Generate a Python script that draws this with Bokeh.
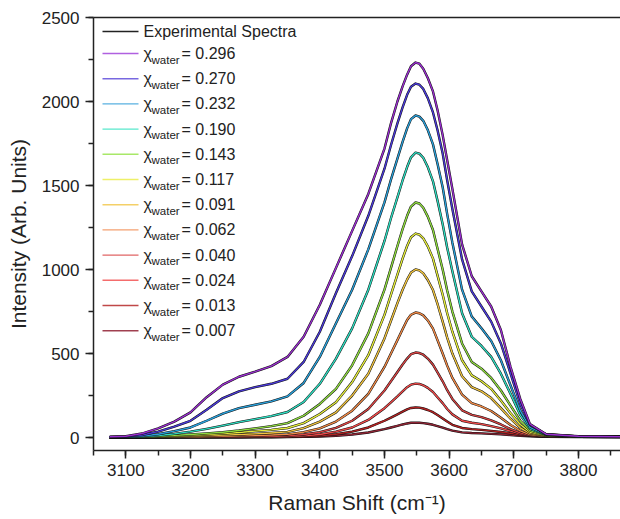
from bokeh.plotting import figure
from bokeh.models import Range1d, SingleIntervalTicker, FixedTicker, Label, BoxAnnotation, LinearAxis
from bokeh.embed import file_html
from bokeh.resources import INLINE

# ---------------- data ----------------
raman_shift = [3075, 3100, 3125, 3150, 3175, 3200, 3225, 3250, 3275, 3300,
               3325, 3350, 3375, 3400, 3425, 3450, 3475, 3500, 3510, 3520,
               3528, 3535, 3541, 3548, 3554, 3560, 3567, 3575, 3582, 3590,
               3597, 3605, 3620, 3635, 3650, 3665, 3680, 3695, 3710, 3725,
               3750, 3800, 3865]

x_water_labels = ["0.296", "0.270", "0.232", "0.190", "0.143", "0.117",
                  "0.091", "0.062", "0.040", "0.024", "0.013", "0.007"]

i_0296 = [5, 8, 24, 55, 95, 150, 240, 315, 362, 392,
          425, 480, 600, 790, 1010, 1230, 1450, 1720, 1870, 2000,
          2090, 2160, 2210, 2232, 2225, 2195, 2140, 2060, 1950, 1800,
          1650, 1480, 1150, 960, 870, 780, 640, 420, 230, 80,
          20, 8, 5]
i_0270 = [3, 6, 15, 35, 65, 100, 165, 235, 275, 300,
          320, 350, 450, 630, 860, 1080, 1320, 1600, 1740, 1870,
          1965, 2040, 2088, 2107, 2100, 2075, 2020, 1935, 1830, 1690,
          1530, 1360, 1060, 870, 780, 690, 560, 380, 200, 75,
          20, 7, 5]
i_0232 = [2, 4, 9, 20, 38, 60, 100, 143, 175, 195,
          215, 245, 325, 480, 680, 880, 1120, 1400, 1535, 1660,
          1760, 1840, 1895, 1917, 1910, 1885, 1830, 1745, 1630, 1490,
          1330, 1160, 880, 720, 650, 575, 460, 310, 160, 60,
          18, 6, 4]
i_0190 = [2, 3, 6, 12, 22, 35, 52, 71, 92, 110,
          128, 152, 212, 320, 470, 650, 880, 1170, 1305, 1430,
          1530, 1610, 1668, 1696, 1690, 1665, 1610, 1525, 1410, 1270,
          1130, 990, 740, 600, 545, 480, 380, 260, 135, 52,
          16, 6, 4]
i_0143 = [1, 2, 4, 8, 13, 18, 25, 32, 42, 55,
          68, 86, 130, 200, 290, 430, 620, 880, 1010, 1140,
          1240, 1320, 1375, 1399, 1393, 1368, 1315, 1235, 1125, 1000,
          875, 750, 560, 450, 410, 355, 280, 190, 100, 42,
          14, 5, 4]
i_0117 = [1, 2, 3, 6, 9, 13, 18, 24, 30, 38,
          46, 57, 86, 140, 210, 330, 490, 730, 850, 970,
          1065, 1140, 1192, 1214, 1208, 1186, 1138, 1065, 965, 850,
          740, 630, 460, 370, 335, 290, 220, 145, 78, 33,
          12, 5, 4]
i_0091 = [1, 2, 3, 4, 6, 9, 12, 15, 18, 22,
          27, 34, 56, 95, 150, 250, 380, 590, 695, 800,
          880, 940, 982, 1000, 995, 977, 938, 878, 795, 690,
          595, 500, 365, 300, 275, 235, 175, 112, 58, 25,
          10, 5, 4]
i_0062 = [1, 1, 2, 3, 4, 5, 6, 8, 10, 12,
          15, 19, 32, 55, 95, 160, 260, 420, 500, 580,
          645, 700, 731, 744, 740, 727, 697, 648, 580, 500,
          428, 355, 255, 205, 185, 158, 118, 75, 40, 18,
          8, 4, 4]
i_0040 = [1, 1, 1, 2, 2, 3, 4, 5, 6, 7,
          8, 10, 18, 32, 58, 100, 170, 280, 335, 390,
          435, 470, 496, 506, 503, 493, 470, 434, 388, 335,
          282, 230, 162, 135, 122, 102, 78, 50, 28, 14,
          7, 4, 3]
i_0024 = [0, 1, 1, 1, 2, 2, 2, 3, 3, 4,
          5, 6, 10, 18, 35, 60, 105, 175, 210, 245,
          275, 300, 315, 321, 319, 311, 296, 271, 240, 205,
          170, 138, 100, 88, 80, 68, 55, 38, 22, 12,
          6, 4, 3]
i_0013 = [0, 0, 1, 1, 1, 1, 2, 2, 2, 3,
          3, 4, 6, 11, 20, 35, 60, 100, 119, 138,
          154, 168, 176, 179, 178, 173, 164, 151, 134, 114,
          95, 76, 57, 50, 46, 40, 33, 25, 16, 10,
          6, 4, 3]
i_0007 = [0, 0, 0, 0, 1, 1, 1, 1, 1, 2,
          2, 3, 4, 6, 11, 18, 30, 50, 60, 70,
          78, 84, 88, 89, 88, 86, 82, 76, 68, 59,
          50, 41, 31, 27, 25, 22, 19, 15, 11, 8,
          5, 3, 3]

series = [i_0296, i_0270, i_0232, i_0190, i_0143, i_0117,
          i_0091, i_0062, i_0040, i_0024, i_0013, i_0007]

# ---------------- styles ----------------
fit_colors = ["#9a2fd0", "#4a3ad8", "#2a9fd8", "#2fdcc0", "#8fdc40", "#e6ee3c",
              "#f0c440", "#f08a48", "#d84444", "#f04a4a", "#b02222", "#8e2434"]
legend_colors = ["#b060e0", "#7868e0", "#58b0e0", "#58e8cc", "#a8e868", "#eef068",
                 "#f4d068", "#f4a070", "#e06464", "#f46c6c", "#c04848", "#a04050"]
FONT = "Liberation Sans"
TXT = "#222222"

p = figure(width=620, height=519,
           x_range=Range1d(3050, 3865), y_range=Range1d(-77, 2500),
           output_backend="svg", toolbar_location=None,
           min_border_left=93, min_border_right=0,
           min_border_top=17, min_border_bottom=69)
p.outline_line_color = None
p.xgrid.visible = False
p.ygrid.visible = False

# curves: experimental (black) under the coloured fits
for vals, col in zip(reversed(series), reversed(fit_colors)):
    p.line(raman_shift, vals, line_color="#111111", line_width=2.4, line_join="round")
    p.line(raman_shift, vals, line_color=col, line_width=1.4, line_join="round")

# axes styling
for ax in (p.xaxis[0], p.yaxis[0]):
    ax.axis_line_width = 1.5
    ax.axis_line_color = TXT
    ax.major_tick_line_width = 1.5
    ax.minor_tick_line_width = 1.5
    ax.major_tick_line_color = TXT
    ax.minor_tick_line_color = TXT
    ax.major_tick_in = 0
    ax.minor_tick_in = 0
    ax.major_tick_out = 8
    ax.minor_tick_out = 5
    ax.major_label_text_font = FONT
    ax.major_label_text_font_size = "17px"
    ax.major_label_text_color = TXT
    ax.axis_label_text_font = FONT
    ax.axis_label_text_font_size = "21px"
    ax.axis_label_text_font_style = "normal"
    ax.axis_label_text_color = TXT

p.yaxis[0].ticker = SingleIntervalTicker(interval=500, num_minor_ticks=2)
p.xaxis[0].ticker = SingleIntervalTicker(interval=100, num_minor_ticks=2)
p.yaxis[0].axis_label = "Intensity (Arb. Units)"
p.xaxis[0].axis_label = "Raman Shift (cm\u207b\u00b9)"
p.yaxis[0].major_label_standoff = 6
p.xaxis[0].major_label_standoff = 5
p.yaxis[0].axis_label_standoff = 9
p.xaxis[0].axis_label_standoff = 12

top = LinearAxis(ticker=FixedTicker(ticks=[]), axis_line_width=1.5, axis_line_color=TXT,
                 major_label_text_font_size="0px", major_tick_line_color=None,
                 minor_tick_line_color=None)
p.add_layout(top, "above")

# manual legend (screen units, relative to the plot frame)
FRAME_BOTTOM = 450
def add_entry(yc, color, lw):
    ys = FRAME_BOTTOM - yc
    p.add_layout(BoxAnnotation(left=9, right=45, bottom=ys - lw / 2, top=ys + lw / 2,
                               left_units="screen", right_units="screen",
                               bottom_units="screen", top_units="screen",
                               fill_color=color, fill_alpha=1.0, line_color=None))

add_entry(31, "#222222", 1.6)
p.add_layout(Label(x=50, y=FRAME_BOTTOM - 31, x_units="screen", y_units="screen",
                   text="Experimental Spectra", text_font=FONT, text_font_size="16px",
                   text_color=TXT, text_baseline="middle", text_align="left"))
for i, (lab, col) in enumerate(zip(x_water_labels, legend_colors)):
    yc = 53 + 25.2 * i
    add_entry(yc, col, 1.4)
    ys = FRAME_BOTTOM - yc
    p.add_layout(Label(x=50, y=ys, x_units="screen", y_units="screen", text="\u03c7",
                       text_font=FONT, text_font_size="16px", text_color=TXT,
                       text_baseline="middle", text_align="left"))
    p.add_layout(Label(x=58, y=ys - 6, x_units="screen", y_units="screen", text="water",
                       text_font=FONT, text_font_size="11.5px", text_color=TXT,
                       text_baseline="middle", text_align="left"))
    p.add_layout(Label(x=88, y=ys, x_units="screen", y_units="screen", text="= " + lab,
                       text_font=FONT, text_font_size="16px", text_color=TXT,
                       text_baseline="middle", text_align="left"))

open("out.html", "w").write(file_html(p, INLINE))
